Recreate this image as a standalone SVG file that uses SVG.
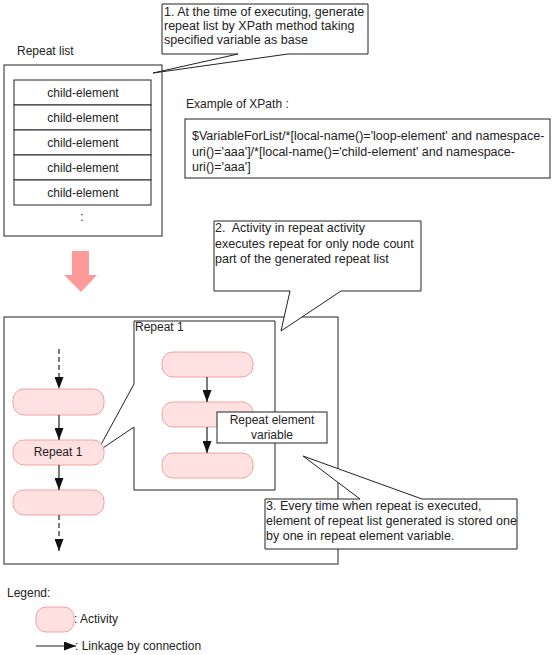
<svg xmlns="http://www.w3.org/2000/svg" width="553" height="655" viewBox="0 0 553 655">
<style>
text{font-family:"Liberation Sans",Arial,sans-serif;font-size:12px;fill:#222;white-space:pre}
.c{text-anchor:middle}
.b{font-size:12.5px}
.box{fill:#fff;stroke:#222;stroke-width:1}
.frame{fill:#fff;stroke:#555;stroke-width:1.3}
.act{fill:#FFE1E1;stroke:#F5A0A0;stroke-width:1}
.ln{stroke:#222;stroke-width:1.2;fill:none}
.dash{stroke:#222;stroke-width:1.2;fill:none;stroke-dasharray:5,3}
</style>
<defs>
<marker id="ah" viewBox="0 0 12 9" refX="12" refY="4.5" markerWidth="12" markerHeight="9" markerUnits="userSpaceOnUse" orient="auto">
<path d="M0,0 L12,4.5 L0,9 Z" fill="#111"/>
</marker>
</defs>

<g id="repeat-list">
<text x="17" y="55">Repeat list</text>
<rect class="box" x="4" y="65" width="158" height="171"/>
<rect class="box" x="14" y="80" width="137" height="25"/>
<rect class="box" x="14" y="105" width="137" height="25"/>
<rect class="box" x="14" y="130" width="137" height="25"/>
<rect class="box" x="14" y="155" width="137" height="25"/>
<rect class="box" x="14" y="180" width="137" height="25"/>
<text class="c" x="83" y="97">child-element</text>
<text class="c" x="83" y="122">child-element</text>
<text class="c" x="83" y="147">child-element</text>
<text class="c" x="83" y="172">child-element</text>
<text class="c" x="83" y="197">child-element</text>
<text class="c" x="82" y="221">:</text>
</g>

<g id="callout-1">
<path class="box" d="M162,4 H368 V54 H288 L153,73 L238,54 H162 Z"/>
<text class="b" x="164" y="16">1. At the time of executing, generate</text>
<text class="b" x="164" y="30">repeat list by XPath method taking</text>
<text class="b" x="164" y="44">specified variable as base</text>
</g>

<g id="xpath-example">
<text x="186" y="108">Example of XPath :</text>
<rect class="box" x="185" y="119" width="365" height="59"/>
<text class="b" x="192" y="140">$VariableForList/*[local-name()='loop-element' and namespace-</text>
<text class="b" x="192" y="156">uri()='aaa']/*[local-name()='child-element' and namespace-</text>
<text class="b" x="192" y="171">uri()='aaa']</text>
</g>

<g id="big-arrow">
<path d="M72,251 H89 V275 H97 L81,292 L64,275 H72 Z" fill="#FF9A9A"/>
</g>

<g id="flow-frame">
<rect class="frame" x="4" y="317" width="334" height="247"/>
</g>

<g id="callout-2">
<path class="box" d="M214,221 H421 V291 H341 L281,331 L290,291 H214 Z"/>
<text class="b" x="215" y="232">2.  Activity in repeat activity</text>
<text class="b" x="215" y="248">executes repeat for only node count</text>
<text class="b" x="215" y="263">part of the generated repeat list</text>
</g>

<g id="repeat1-detail">
<path class="box" d="M134,321 H275 V490 H134 V427 L97,452 L134,384 Z"/>
<text x="135" y="331">Repeat 1</text>
</g>

<g id="act-left-1"><rect class="act" x="13" y="389" width="91" height="26" rx="11"/></g>
<g id="act-left-2"><rect class="act" x="13" y="440" width="91" height="25" rx="11"/><text class="c" x="58" y="456">Repeat 1</text></g>
<g id="act-left-3"><rect class="act" x="13" y="490" width="91" height="25" rx="11"/></g>
<g id="act-in-1"><rect class="act" x="162" y="352" width="91" height="25" rx="11"/></g>
<g id="act-in-2"><rect class="act" x="162" y="402" width="91" height="25" rx="11"/></g>
<g id="act-in-3"><rect class="act" x="162" y="453" width="91" height="25" rx="11"/></g>

<g id="connectors">
<line class="dash" x1="59" y1="349" x2="59" y2="389" marker-end="url(#ah)"/>
<line class="ln" x1="59" y1="415" x2="59" y2="440" marker-end="url(#ah)"/>
<line class="ln" x1="59" y1="465" x2="59" y2="490" marker-end="url(#ah)"/>
<line class="dash" x1="59" y1="515" x2="59" y2="551" marker-end="url(#ah)"/>
<line class="ln" x1="207" y1="377" x2="207" y2="402" marker-end="url(#ah)"/>
<line class="ln" x1="207" y1="427" x2="207" y2="453" marker-end="url(#ah)"/>
</g>

<g id="repeat-element-variable">
<rect class="box" x="217" y="412" width="110" height="31"/>
<text class="c" x="272" y="424">Repeat element</text>
<text class="c" x="272" y="439">variable</text>
</g>

<g id="callout-3">
<path class="box" d="M265,499 H360 L303,456 L422,499 H517 V549 H265 Z"/>
<text class="b" x="266" y="510">3. Every time when repeat is executed,</text>
<text class="b" x="266" y="525">element of repeat list generated is stored one</text>
<text class="b" x="266" y="540">by one in repeat element variable.</text>
</g>

<g id="legend">
<text x="7" y="597">Legend:</text>
<rect class="act" x="36" y="607" width="38" height="25" rx="10"/>
<text x="74" y="623">: Activity</text>
<line class="ln" x1="36" y1="646" x2="76" y2="646" marker-end="url(#ah)"/>
<text x="75" y="650">: Linkage by connection</text>
</g>
</svg>
